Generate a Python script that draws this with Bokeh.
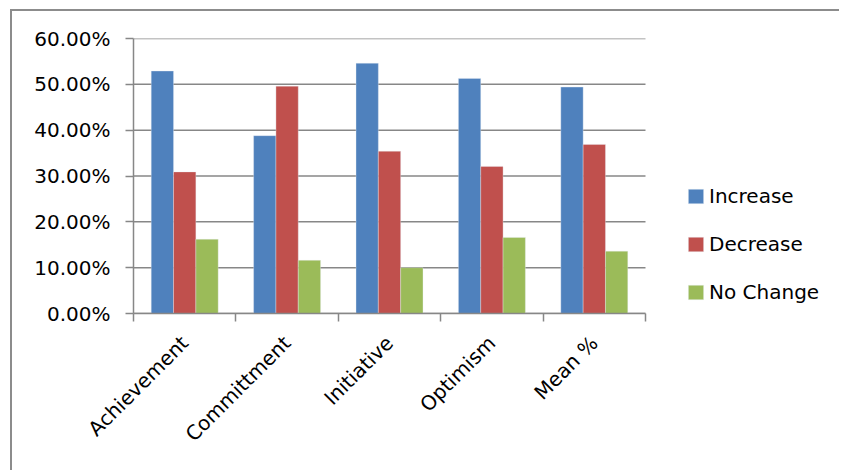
import math
from bokeh.plotting import figure
from bokeh.models import (ColumnDataSource, Range1d, FixedTicker, LinearAxis,
                          NumeralTickFormatter, Legend, LegendItem)
from bokeh.transform import dodge
from bokeh.embed import file_html
from bokeh.resources import INLINE

categories = ["Achievement", "Committment", "Initiative", "Optimism", "Mean %"]
increase = [0.529, 0.388, 0.546, 0.513, 0.494]
decrease = [0.309, 0.496, 0.354, 0.321, 0.369]
no_change = [0.162, 0.116, 0.100, 0.166, 0.136]
series_names = ["Increase", "Decrease", "No Change"]
colors = ["#4F81BD", "#C0504D", "#9BBB59"]
y_ticks = [0.0, 0.1, 0.2, 0.3, 0.4, 0.5, 0.6]

FONT = "DejaVu Sans"
FS = "20px"
GRAY = "#878787"

n = len(categories)
src = ColumnDataSource(dict(
    x=[i + 0.5 for i in range(n)],
    inc=increase, dec=decrease, noc=no_change,
))

# frame spans to the right edge; data (0..n) occupies the left 512 px of 708
frame_w, data_w = 708, 512
p = figure(width=829, height=461, output_backend="svg", toolbar_location=None,
           x_range=Range1d(0, n * frame_w / data_w), y_range=Range1d(0, 0.6),
           x_axis_type=None, y_axis_type=None,
           min_border_left=121, min_border_right=0,
           min_border_top=27, min_border_bottom=159)
p.margin = (9, 0, 0, 10)
p.styles = {"border-left": "2px solid #8c8c8c", "border-top": "2px solid #8c8c8c"}
p.outline_line_color = None
p.background_fill_color = "white"
p.border_fill_color = "white"

# horizontal gridlines limited to the category area
p.segment(x0=[0] * len(y_ticks), x1=[n] * len(y_ticks), y0=y_ticks, y1=y_ticks,
          line_color=GRAY, line_width=1.5)

bw = 0.218
renderers = []
for col, off, c in zip(["inc", "dec", "noc"], [-bw, 0, bw], colors):
    r = p.vbar(x=dodge("x", off, range=p.x_range), top=col, width=bw, bottom=0,
               source=src, fill_color=c, line_color="#e6ecf5", line_width=0.6,
               line_alpha=0.6)
    renderers.append(r)

# y axis
yaxis = LinearAxis(ticker=FixedTicker(ticks=y_ticks, minor_ticks=[]),
                   formatter=NumeralTickFormatter(format="0.00%"))
yaxis.axis_line_color = GRAY
yaxis.axis_line_width = 1.5
yaxis.major_tick_line_color = GRAY
yaxis.major_tick_line_width = 1.5
yaxis.major_tick_out = 8
yaxis.major_tick_in = 0
yaxis.minor_tick_line_color = None
yaxis.major_label_text_font = FONT
yaxis.major_label_text_font_size = FS
yaxis.major_label_text_color = "black"
yaxis.major_label_standoff = 15
p.add_layout(yaxis, "left")

# x axis (category boundaries as tick marks, names centred)
xaxis = LinearAxis(ticker=FixedTicker(ticks=[i + 0.5 for i in range(n)],
                                      minor_ticks=list(range(n + 1))),
                   bounds=(0, n))
xaxis.major_label_overrides = {i + 0.5: c for i, c in enumerate(categories)}
xaxis.axis_line_color = GRAY
xaxis.axis_line_width = 1.5
xaxis.major_tick_line_color = None
xaxis.major_tick_out = 0
xaxis.major_tick_in = 0
xaxis.minor_tick_line_color = GRAY
xaxis.minor_tick_line_width = 1.5
xaxis.minor_tick_out = 8
xaxis.minor_tick_in = 0
xaxis.major_label_orientation = math.pi / 4
xaxis.major_label_text_font = FONT
xaxis.major_label_text_font_size = FS
xaxis.major_label_text_color = "black"
xaxis.major_label_standoff = 18
p.add_layout(xaxis, "below")

legend = Legend(items=[LegendItem(label=s, renderers=[r]) for s, r in zip(series_names, renderers)],
                location=(553, 9))
legend.border_line_color = None
legend.background_fill_alpha = 0
legend.padding = 0
legend.margin = 0
legend.glyph_width = 19
legend.glyph_height = 18
legend.label_height = 24
legend.label_standoff = 4
legend.spacing = 24
legend.label_text_font = FONT
legend.label_text_font_size = FS
legend.label_text_color = "black"
p.add_layout(legend, "center")

open("out.html", "w").write(file_html(p, INLINE))
